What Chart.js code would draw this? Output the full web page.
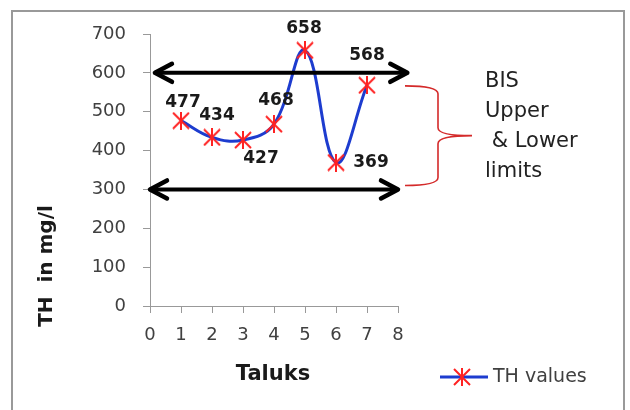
<!DOCTYPE html>
<html>
<head>
<meta charset="utf-8">
<script src="https://cdn.jsdelivr.net/npm/chart.js@4/dist/chart.umd.min.js"></script>
<style>
    body { margin: 0; background: #fff; }
</style>
</head>
<body>
<canvas id="myChart" width="630" height="410"></canvas>
<script>
// data
const taluks = [1, 2, 3, 4, 5, 6, 7];
const thValues = [477, 434, 427, 468, 658, 369, 568];
const bisLimits = [600, 300];
const limitArrowSpans = [[0.16, 8.3], [0, 8]];
const bisText = ['BIS', 'Upper', ' & Lower', 'limits'];

// where each value label sits relative to its point (px)
const labelOffsets = [[2, -18], [5, -22], [18, 18], [2, -24], [-1, -22], [35, 0], [0, -30]];

const FONT = 'DejaVu Sans';

function makeStar(size, color) {
    let c = document.createElement('canvas');
    c.width = size;
    c.height = size;
    let g = c.getContext('2d');
    g.strokeStyle = color;
    g.lineWidth = 2;
    g.beginPath();
    g.moveTo(1, 1); g.lineTo(size - 1, size - 1);
    g.moveTo(size - 1, 1); g.lineTo(1, size - 1);
    g.moveTo(size / 2, 0); g.lineTo(size / 2, size);
    g.stroke();
    return c;
}

const star = makeStar(18, '#ff2222');

function drawArrow(ctx, x1, x2, y) {
    ctx.save();
    ctx.strokeStyle = '#000';
    ctx.lineCap = 'round';
    ctx.lineJoin = 'round';
    ctx.lineWidth = 4;
    ctx.beginPath();
    ctx.moveTo(x1 + 2, y);
    ctx.lineTo(x2 - 2, y);
    ctx.stroke();
    ctx.lineWidth = 4.5;
    ctx.beginPath();
    ctx.moveTo(x1 + 17, y - 9);
    ctx.lineTo(x1, y);
    ctx.lineTo(x1 + 17, y + 9);
    ctx.moveTo(x2 - 17, y - 9);
    ctx.lineTo(x2, y);
    ctx.lineTo(x2 - 17, y + 9);
    ctx.stroke();
    ctx.restore();
}

const extras = {
    id: 'extras',
    afterDraw(chart) {
        let ctx = chart.ctx;
        let xs = chart.scales.x;
        let ys = chart.scales.y;

        // outer frame
        ctx.save();
        ctx.strokeStyle = '#999';
        ctx.lineWidth = 2;
        ctx.strokeRect(12, 11, 612, 420);
        ctx.restore();

        // BIS limit arrows
        bisLimits.forEach((v, i) => {
            let span = limitArrowSpans[i];
            drawArrow(ctx, xs.getPixelForValue(span[0]), xs.getPixelForValue(span[1]), ys.getPixelForValue(v));
        });

        // red brace
        let top = ys.getPixelForValue(bisLimits[0]) + 13;
        let bot = ys.getPixelForValue(bisLimits[1]) - 4;
        let mid = (top + bot) / 2;
        let bx0 = xs.getPixelForValue(8) + 7;
        let bx1 = bx0 + 33;
        let tip = bx0 + 67;
        ctx.save();
        ctx.strokeStyle = '#d42a2a';
        ctx.lineWidth = 1.6;
        ctx.beginPath();
        ctx.moveTo(bx0, top);
        ctx.quadraticCurveTo(bx1, top, bx1, top + 8);
        ctx.lineTo(bx1, mid - 8);
        ctx.quadraticCurveTo(bx1, mid, tip, mid);
        ctx.quadraticCurveTo(bx1, mid, bx1, mid + 8);
        ctx.lineTo(bx1, bot - 8);
        ctx.quadraticCurveTo(bx1, bot, bx0, bot);
        ctx.stroke();
        ctx.restore();

        // BIS text block
        ctx.save();
        ctx.fillStyle = '#222';
        ctx.font = '21px ' + FONT;
        ctx.textAlign = 'left';
        ctx.textBaseline = 'alphabetic';
        bisText.forEach((t, i) => {
            ctx.fillText(t, 485, 87 + i * 30);
        });
        ctx.restore();

        // value labels
        let meta = chart.getDatasetMeta(0);
        ctx.save();
        ctx.fillStyle = '#1a1a1a';
        ctx.font = 'bold 17px ' + FONT;
        ctx.textAlign = 'center';
        ctx.textBaseline = 'middle';
        meta.data.forEach((pt, i) => {
            ctx.fillText(String(thValues[i]), pt.x + labelOffsets[i][0], pt.y + labelOffsets[i][1]);
        });
        ctx.restore();

        // axis titles
        ctx.save();
        ctx.fillStyle = '#1a1a1a';
        ctx.font = 'bold 21px ' + FONT;
        ctx.textAlign = 'center';
        ctx.textBaseline = 'alphabetic';
        ctx.fillText('Taluks', 273, 380);
        ctx.translate(47, 266);
        ctx.rotate(-Math.PI / 2);
        ctx.font = 'bold 20px ' + FONT;
        ctx.textBaseline = 'middle';
        ctx.fillText('TH  in mg/l', 0, 0);
        ctx.restore();

        // legend
        ctx.save();
        ctx.strokeStyle = '#1d3ccf';
        ctx.lineWidth = 3;
        ctx.beginPath();
        ctx.moveTo(440, 377);
        ctx.lineTo(488, 377);
        ctx.stroke();
        ctx.drawImage(star, 462 - 9, 377 - 9);
        ctx.fillStyle = '#404040';
        ctx.font = '19px ' + FONT;
        ctx.textAlign = 'left';
        ctx.textBaseline = 'middle';
        ctx.fillText('TH values', 493, 377);
        ctx.restore();
    }
};

var myChartObject = document.getElementById('myChart');

var chart = new Chart(myChartObject, {
    type: 'line',
    data: {
        datasets: [{
            label: 'TH values',
            data: taluks.map((t, i) => ({ x: t, y: thValues[i] })),
            borderColor: '#1d3ccf',
            borderWidth: 3,
            tension: 0.4,
            pointStyle: star,
            pointRadius: 9,
            fill: false
        }]
    },
    options: {
        responsive: false,
        animation: false,
        devicePixelRatio: 1,
        layout: { padding: { left: 90, top: 34, right: 232, bottom: 64 } },
        plugins: {
            legend: { display: false },
            tooltip: { enabled: false }
        },
        scales: {
            x: {
                type: 'linear',
                min: 0,
                max: 8,
                afterFit(scale) { scale.height = 40; },
                ticks: {
                    stepSize: 1,
                    padding: 12,
                    color: '#404040',
                    font: { family: FONT, size: 18 }
                },
                grid: { drawOnChartArea: false, tickLength: 7, color: '#999' },
                border: { color: '#999', width: 1 }
            },
            y: {
                min: 0,
                max: 700,
                afterFit(scale) { scale.width = 60; },
                ticks: {
                    stepSize: 100,
                    padding: 17,
                    color: '#404040',
                    font: { family: FONT, size: 18 }
                },
                grid: { drawOnChartArea: false, tickLength: 7, color: '#999' },
                border: { color: '#999', width: 1 }
            }
        }
    },
    plugins: [extras]
});
</script>
</body>
</html>
